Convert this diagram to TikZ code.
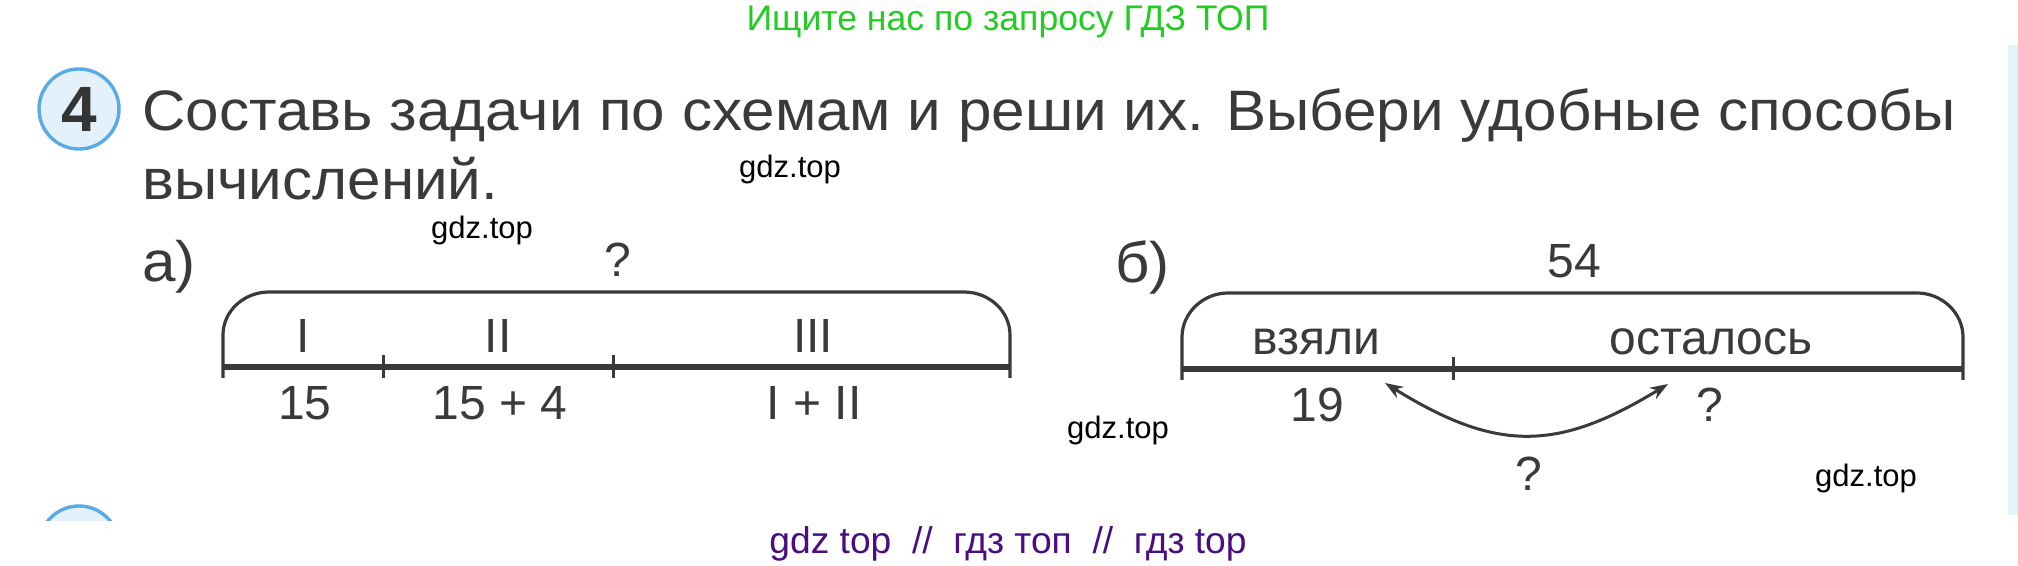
\documentclass[tikz,border=0pt]{standalone}
\usepackage{fontspec}
\setmainfont{Liberation Sans}
\newfontfamily\widefont[FakeStretch=1.055]{Liberation Sans}
\usetikzlibrary{arrows.meta}
\definecolor{ink}{HTML}{3A3A3A}
\definecolor{ringblue}{HTML}{5AAAE6}
\definecolor{ringfill}{HTML}{E4F1FB}
\definecolor{wmgreen}{HTML}{22CC22}
\definecolor{wmpurple}{HTML}{4A0E80}
\definecolor{stripblue}{HTML}{E2F4FA}

\begin{document}
\begin{tikzpicture}[x=0.5pt,y=-0.5pt,
  main text/.style={anchor=base west,inner sep=0,text=ink,font=\widefont\fontsize{28.5}{34}\selectfont},
  label text/.style={anchor=base,inner sep=0,text=ink,font=\fontsize{24}{28}\selectfont},
  site mark/.style={anchor=base,inner sep=0,text=black,font=\fontsize{15.5}{18}\selectfont},
  ring/.style={circle,draw=ringblue,line width=1.7pt,fill=ringfill,minimum size=80pt*0.5,inner sep=0},
  bracket line/.style={draw=ink,line width=1.6pt},
  base line/.style={draw=ink,line width=2.6pt},
  tick line/.style={draw=ink,line width=1.5pt},
  swap arrow/.style={draw=ink,line width=1.5pt,{Stealth[length=9pt,width=6.5pt]}-{Stealth[length=9pt,width=6.5pt]}}]

\useasboundingbox (0,0) rectangle (2018,566);
\fill[white] (0,0) rectangle (2018,566);
\fill[stripblue] (2008,45) rectangle (2018,515);

% watermarks
\node at (1008,31) [site mark,text=wmgreen,font=\fontsize{17.8}{21}\selectfont] (top mark) {Ищите нас по запросу ГДЗ ТОП};
\node at (1008,553) [site mark,text=wmpurple,font=\fontsize{18.6}{22}\selectfont] (bottom mark) {gdz top~~//~~гдз топ~~//~~гдз top};
\node at (790,178) [site mark] (mark1) {gdz.top};
\node at (482,239) [site mark] (mark2) {gdz.top};
\node at (1118,438) [site mark] (mark3) {gdz.top};
\node at (1866,487) [site mark] (mark4) {gdz.top};

% task
\node at (79,109) [ring,font=\fontsize{32}{36}\bfseries,text=ink!90!black] (num) {4};
\node at (142,131) [main text] (task1) {Составь задачи по схемам и реши их. Выбери удобные способы};
\node at (142,200) [main text] (task2) {вычислений.};
\begin{scope}
  \clip (0,0) rectangle (2018,520);
  \node at (79,546) [ring] (next num) {};
\end{scope}

% scheme a
\node at (142,282) [main text] (part a) {а)};
\node at (618,277) [label text] (sum a) {?};
\draw[bracket line] (223,378) -- (223,335) .. controls (223,311) and (244,292) .. (269,292)
  -- (964,292) .. controls (989,292) and (1010,311) .. (1010,335) -- (1010,378);
\draw[base line] (223,367) -- (1010,367);
\draw[tick line] (383,355) -- (383,378)
                 (613,355) -- (613,378);
\node at (303,353) [label text] (p1) {I};
\node at (498,353) [label text] (p2) {II};
\node at (813,353) [label text] (p3) {III};
\node at (305,420) [label text] (v1) {15};
\node at (500,420) [label text] (v2) {15 + 4};
\node at (814,420) [label text] (v3) {I + II};

% scheme b
\node at (1115,283) [main text] (part b) {б)};
\node at (1574,278) [label text] (sum b) {54};
\draw[bracket line] (1182,380) -- (1182,337) .. controls (1182,313) and (1203,293) .. (1228,293)
  -- (1917,293) .. controls (1942,293) and (1963,313) .. (1963,337) -- (1963,380);
\draw[base line] (1182,369) -- (1963,369);
\draw[tick line] (1453,357) -- (1453,380);
\node at (1316,355) [label text] (took) {взяли};
\node at (1711,355) [label text] (rest) {осталось};
\node at (1317,422) [label text] (took val) {19};
\node at (1710,422) [label text] (rest val) {?};
\node at (1529,490) [label text] (diff) {?};
\coordinate (tip took) at (1385,383);
\coordinate (tip rest) at (1668,384);
\draw[swap arrow] (tip took) .. controls (1496,452) and (1557,452) .. (tip rest);
\end{tikzpicture}
\end{document}
